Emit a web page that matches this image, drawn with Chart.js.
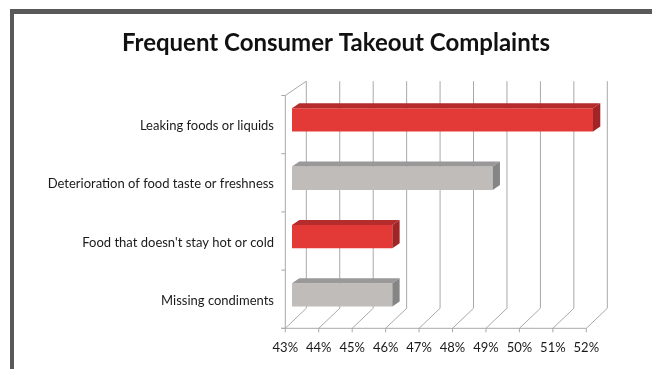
<!DOCTYPE html>
<html>
<head>
<meta charset="utf-8">
<script src="https://cdn.jsdelivr.net/npm/chart.js@4"></script>
<style>
  body { margin: 0; background: #fff; }
  .wrap { position: relative; width: 652px; height: 369px; overflow: hidden; }
  .frame {
    position: absolute; left: 10px; top: 9px; width: 700px; height: 420px;
    border-left: 4px solid #595959; border-top: 5px solid #595959;
  }
  canvas { position: absolute; left: 0; top: 0; }
</style>
</head>
<body>
<div class="wrap">
  <div class="frame"></div>
  <canvas id="myChart" width="652" height="369"></canvas>
</div>
<script>
let complaints = [
    "Leaking foods or liquids",
    "Deterioration of food taste or freshness",
    "Food that doesn't stay hot or cold",
    "Missing condiments"
];
let percentValues = [52, 49, 46, 46];
let tickMin = 43;
let tickMax = 52;

let frontColors = ["#e43a37", "#c0bcba", "#e43a37", "#c0bcba"];
let topColors = ["#b52c2c", "#9a9898", "#b52c2c", "#9a9898"];
let sideColors = ["#a12526", "#858585", "#a12526", "#858585"];

// fake 3d look, offsets
let depthX = 7.3, depthY = -5;
let lineColor = "#a8a8a8";

let fake3d = {
    id: "fake3d",
    beforeDatasetsDraw(chart) {
        let ctx = chart.ctx;
        let x = chart.scales.x;
        let area = chart.chartArea;
        let frontTop = area.top + 4.7, frontBottom = area.bottom + 4.3;
        let backTop = area.top - 9.6, backBottom = area.bottom - 15.7;
        ctx.save();
        ctx.strokeStyle = lineColor;
        ctx.lineWidth = 1;
        for (let v = tickMin; v <= tickMax; v++) {
            let px = x.getPixelForValue(v);
            // back wall line
            ctx.beginPath();
            ctx.moveTo(px + 14.3, backTop);
            ctx.lineTo(px + 14.3, backBottom);
            // floor line
            ctx.moveTo(px - 6.7, frontBottom);
            ctx.lineTo(px + 14.3, backBottom);
            ctx.stroke();
        }
        let left = x.getPixelForValue(tickMin);
        let right = x.getPixelForValue(tickMax);
        ctx.beginPath();
        // top edge of side wall
        ctx.moveTo(left - 6.7, frontTop);
        ctx.lineTo(left + 14.3, backTop);
        // front vertical axis
        ctx.moveTo(left - 6.7, frontTop);
        ctx.lineTo(left - 6.7, frontBottom);
        // front horizontal axis
        ctx.moveTo(left - 10.7, frontBottom);
        ctx.lineTo(right - 6.7, frontBottom);
        for (let i = 0; i <= complaints.length; i++) {
            let ty = frontTop + (frontBottom - frontTop) * i / complaints.length;
            ctx.moveTo(left - 10.7, ty);
            ctx.lineTo(left - 6.7, ty);
        }
        for (let v = tickMin; v <= tickMax; v++) {
            let px = x.getPixelForValue(v) - 6.7;
            ctx.moveTo(px, frontBottom);
            ctx.lineTo(px, frontBottom + 4);
        }
        ctx.stroke();
        ctx.restore();
    },
    afterDatasetsDraw(chart) {
        let ctx = chart.ctx;
        let bars = chart.getDatasetMeta(0).data;
        let start = chart.scales.x.getPixelForValue(tickMin);
        ctx.save();
        bars.forEach((bar, i) => {
            let p = bar.getProps(["x", "y", "height"], true);
            let top = p.y - p.height / 2;
            let bottom = p.y + p.height / 2;
            ctx.fillStyle = topColors[i];
            ctx.beginPath();
            ctx.moveTo(start, top);
            ctx.lineTo(p.x, top);
            ctx.lineTo(p.x + depthX, top + depthY);
            ctx.lineTo(start + depthX, top + depthY);
            ctx.closePath();
            ctx.fill();
            ctx.fillStyle = sideColors[i];
            ctx.beginPath();
            ctx.moveTo(p.x, top);
            ctx.lineTo(p.x + depthX, top + depthY);
            ctx.lineTo(p.x + depthX, bottom + depthY);
            ctx.lineTo(p.x, bottom);
            ctx.closePath();
            ctx.fill();
        });
        ctx.restore();
    }
};

let ctx = document.getElementById("myChart").getContext("2d");
let chartOne = new Chart(ctx, {
    type: "bar",
    data: {
        labels: complaints,
        datasets: [
            {
                data: percentValues,
                backgroundColor: frontColors,
                borderWidth: 0,
                barPercentage: 0.4,
                categoryPercentage: 1
            }
        ]
    },
    options: {
        indexAxis: "y",
        responsive: false,
        animation: false,
        layout: { padding: { left: 20, right: 0, top: 0, bottom: 0 } },
        plugins: {
            legend: { display: false },
            tooltip: { enabled: false },
            title: {
                display: true,
                text: "Frequent Consumer Takeout Complaints",
                color: "#111",
                font: { family: "Lato", size: 24, weight: "bold" },
                padding: { top: 29, bottom: 33 }
            }
        },
        scales: {
            x: {
                min: tickMin,
                max: tickMax,
                grid: { display: false },
                border: { display: false },
                ticks: {
                    stepSize: 1,
                    color: "#1a1a1a",
                    font: { family: "Lato", size: 13 },
                    padding: 8,
                    labelOffset: -6.7,
                    callback: v => v + "%"
                },
                afterFit(scale) { scale.height = 45; }
            },
            y: {
                grid: { display: false },
                border: { display: false },
                ticks: {
                    color: "#1a1a1a",
                    font: { family: "Lato", size: 13 },
                    padding: 10,
                    labelOffset: 6
                },
                afterFit(scale) { scale.width = 272; }
            },
            // empty right axis, only keeps room on the right
            spacer: {
                axis: "y",
                position: "right",
                grid: { display: false },
                border: { display: false },
                ticks: { display: false },
                afterFit(scale) { scale.width = 59; }
            }
        }
    },
    plugins: [fake3d]
});
</script>
</body>
</html>
